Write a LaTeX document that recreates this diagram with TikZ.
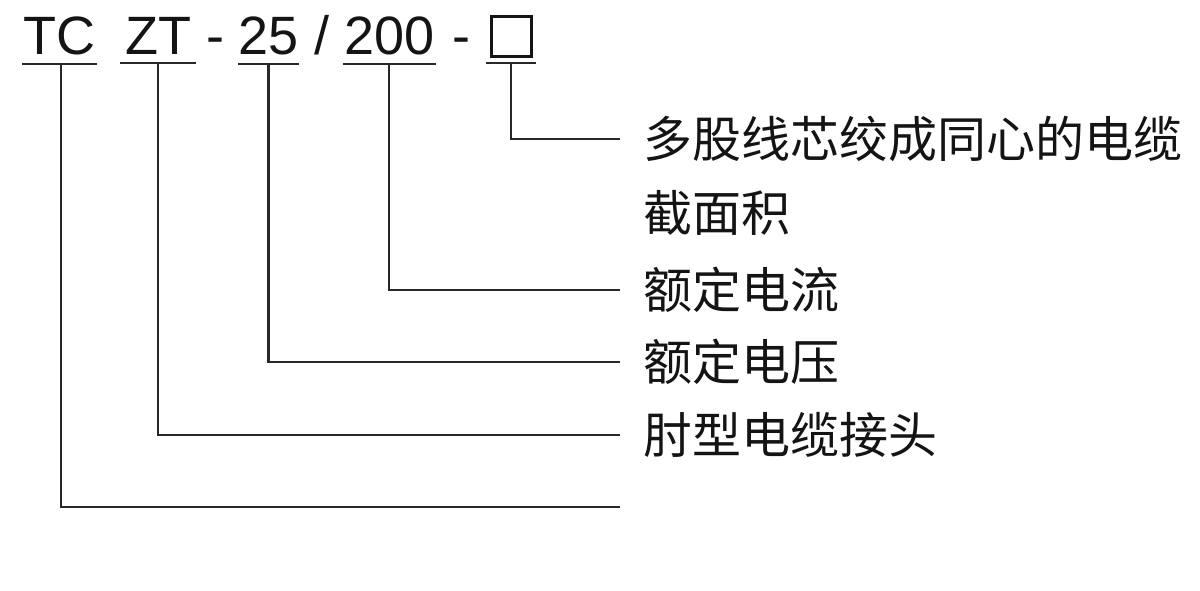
\documentclass[tikz,border=0pt]{standalone}
\usepackage{fontspec}
\setmainfont{Liberation Sans}
\newfontfamily\cjk{Noto Sans CJK SC}
\definecolor{linec}{RGB}{40,40,40}
\definecolor{txtc}{RGB}{20,20,20}
\begin{document}
\begin{tikzpicture}[x=1pt,y=-1pt,
  code/.style={inner xsep=0pt,inner ysep=8pt,anchor=base,text=txtc,
    font=\fontsize{54}{60}\selectfont},
  lab/.style={inner xsep=23pt,inner ysep=0pt,anchor=west,text=txtc,
    font=\cjk\fontsize{49}{55}\selectfont},
  conn/.style={draw=linec,line width=2.1pt},
  uline/.style={draw=linec,line width=2.1pt}]
\useasboundingbox (0,0) rectangle (1200,591);
% code tokens
\node[code,minimum width=75pt] (tc) at (59.5,55) {TC};
\node[code,minimum width=75pt] (zt) at (158,55) {ZT};
\node[code] (d1) at (215,55) {-};
\node[code,minimum width=61pt] (v) at (268.5,55) {25};
\node[code] (sl) at (322,55) {/};
\node[code,minimum width=93pt] (a) at (389.5,55) {200};
\node[code] (d2) at (461,55) {-};
\node[draw=txtc,line width=2.4pt,minimum width=40pt,minimum height=40pt,inner sep=0pt] (bx) at (511.5,36.5) {};
\coordinate (bxl) at (486,63);
\coordinate (bxr) at (536,63);
\coordinate (bxs) at (511,63);
% underlines
\draw[uline] (tc.south west) -- (tc.south east);
\draw[uline] (zt.south west) -- (zt.south east);
\draw[uline] (v.south west) -- (v.south east);
\draw[uline] (a.south west) -- (a.south east);
\draw[uline] (bxl) -- (bxr);
% labels
\node[lab] (l1) at (620,139) {多股线芯绞成同心的电缆};
\node[lab] (l1b) at ([yshift=-74pt]l1.west) {截面积};
\node[lab] (l2) at (620,290) {额定电流};
\node[lab] (l3) at (620,362) {额定电压};
\node[lab] (l4) at (620,435) {肘型电缆接头};
\coordinate (l5) at (620,507);
% connectors
\draw[conn] (bxs) |- (l1.west);
\draw[conn] ([xshift=-0.5pt]a.south) |- (l2.west);
\draw[conn] (v.south) |- (l3.west);
\draw[conn] (zt.south) |- (l4.west);
\draw[conn] ([xshift=1.5pt]tc.south) |- (l5);
\end{tikzpicture}
\end{document}
